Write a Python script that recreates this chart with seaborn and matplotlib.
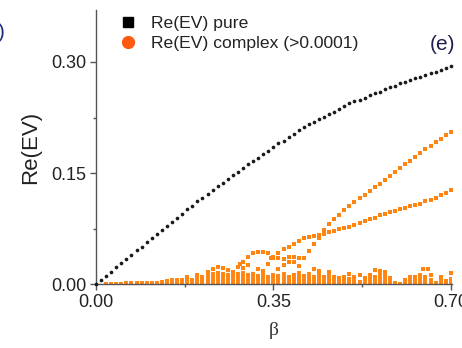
import matplotlib
matplotlib.use("Agg")
import matplotlib.pyplot as plt
from matplotlib.lines import Line2D
from matplotlib.ticker import MultipleLocator
import seaborn as sns
import pandas as pd

# ---------------- data ----------------
beta_pure = [0.00, 0.01, 0.02, 0.03, 0.04, 0.05, 0.06, 0.07, 0.08, 0.09,
             0.10, 0.11, 0.12, 0.13, 0.14, 0.15, 0.16, 0.17, 0.18, 0.19,
             0.20, 0.21, 0.22, 0.23, 0.24, 0.25, 0.26, 0.27, 0.28, 0.29,
             0.30, 0.31, 0.32, 0.33, 0.34, 0.35, 0.36, 0.37, 0.38, 0.39,
             0.40, 0.41, 0.42, 0.43, 0.44, 0.45, 0.46, 0.47, 0.48, 0.49,
             0.50, 0.51, 0.52, 0.53, 0.54, 0.55, 0.56, 0.57, 0.58, 0.59,
             0.60, 0.61, 0.62, 0.63, 0.64, 0.65, 0.66, 0.67, 0.68, 0.69, 0.70]
re_pure = [0.000, 0.006, 0.011, 0.017, 0.023, 0.029, 0.034, 0.040, 0.046, 0.051,
           0.057, 0.062, 0.068, 0.073, 0.079, 0.084, 0.090, 0.095, 0.101, 0.106,
           0.112, 0.117, 0.122, 0.127, 0.132, 0.137, 0.142, 0.147, 0.152, 0.157,
           0.162, 0.167, 0.171, 0.176, 0.180, 0.185, 0.190, 0.194, 0.199, 0.203,
           0.208, 0.212, 0.216, 0.219, 0.223, 0.226, 0.230, 0.233, 0.237, 0.240,
           0.244, 0.247, 0.249, 0.252, 0.255, 0.258, 0.260, 0.263, 0.266, 0.268,
           0.271, 0.273, 0.276, 0.278, 0.280, 0.283, 0.285, 0.287, 0.289, 0.292, 0.294]

# upper complex branch
beta_upper = [0.41, 0.42, 0.43, 0.44, 0.45, 0.46, 0.47, 0.48, 0.49, 0.50,
              0.51, 0.52, 0.53, 0.54, 0.55, 0.56, 0.57, 0.58, 0.59, 0.60,
              0.61, 0.62, 0.63, 0.64, 0.65, 0.66, 0.67, 0.68, 0.69, 0.70]
re_upper = [0.036, 0.045, 0.054, 0.063, 0.073, 0.081, 0.088, 0.094, 0.100, 0.106,
            0.111, 0.116, 0.121, 0.126, 0.131, 0.136, 0.141, 0.146, 0.152, 0.157,
            0.162, 0.167, 0.172, 0.177, 0.182, 0.187, 0.192, 0.196, 0.201, 0.206]

# lower complex branch
beta_lower = [0.35, 0.36, 0.37, 0.38, 0.39, 0.40, 0.41, 0.42, 0.43, 0.44,
              0.45, 0.46, 0.47, 0.48, 0.49, 0.50, 0.51, 0.52, 0.53, 0.54,
              0.55, 0.56, 0.57, 0.58, 0.59, 0.60, 0.61, 0.62, 0.63, 0.64,
              0.65, 0.66, 0.67, 0.68, 0.69, 0.70]
re_lower = [0.037, 0.042, 0.047, 0.051, 0.055, 0.059, 0.062, 0.064, 0.065, 0.066,
            0.068, 0.070, 0.072, 0.074, 0.076, 0.078, 0.080, 0.083, 0.085, 0.088,
            0.090, 0.093, 0.095, 0.097, 0.099, 0.101, 0.103, 0.105, 0.107, 0.109,
            0.112, 0.114, 0.117, 0.120, 0.123, 0.127]

# hump, crossing and scattered complex points
beta_scatter = [0.28, 0.29, 0.30, 0.31, 0.32, 0.33, 0.34,
                0.35, 0.36, 0.37, 0.38, 0.39, 0.40, 0.38, 0.39, 0.37, 0.40, 0.36,
                0.285, 0.29, 0.30, 0.32, 0.33, 0.34, 0.345,
                0.22, 0.23, 0.24, 0.25, 0.26, 0.27,
                0.18, 0.20, 0.43, 0.44, 0.46, 0.50, 0.52, 0.55, 0.56, 0.57,
                0.645, 0.655, 0.66, 0.68, 0.70, 0.69]
re_scatter = [0.024, 0.030, 0.037, 0.042, 0.044, 0.044, 0.042,
              0.036, 0.036, 0.034, 0.037, 0.037, 0.036, 0.030, 0.030, 0.026, 0.025, 0.021,
              0.027, 0.022, 0.026, 0.020, 0.018, 0.027, 0.035,
              0.017, 0.020, 0.023, 0.022, 0.019, 0.017,
              0.010, 0.013, 0.020, 0.018, 0.016, 0.014, 0.013, 0.019, 0.018, 0.016,
              0.020, 0.020, 0.013, 0.010, 0.015, 0.005]

# dense near-zero complex band (column heights)
beta_band = [0.02, 0.03, 0.04, 0.05, 0.06, 0.07, 0.08, 0.09, 0.10, 0.11,
             0.12, 0.13, 0.14, 0.15, 0.16, 0.17, 0.18, 0.19, 0.20, 0.21,
             0.22, 0.23, 0.24, 0.25, 0.26, 0.27, 0.28, 0.29, 0.30, 0.31,
             0.32, 0.33, 0.34, 0.35, 0.36, 0.37, 0.38, 0.39, 0.40, 0.41,
             0.42, 0.43, 0.44, 0.45, 0.46, 0.47, 0.48, 0.49, 0.50, 0.51,
             0.52, 0.53, 0.54, 0.55, 0.56, 0.57, 0.58, 0.59, 0.60, 0.61,
             0.62, 0.63, 0.64, 0.65, 0.66, 0.67, 0.68, 0.69, 0.70]
re_band = [0.003, 0.003, 0.003, 0.003, 0.004, 0.004, 0.004, 0.004, 0.005, 0.005,
           0.005, 0.006, 0.007, 0.008, 0.009, 0.008, 0.010, 0.009, 0.012, 0.013,
           0.014, 0.016, 0.018, 0.016, 0.015, 0.017, 0.016, 0.018, 0.015, 0.017,
           0.014, 0.016, 0.013, 0.015, 0.014, 0.016, 0.013, 0.015, 0.018, 0.014,
           0.016, 0.013, 0.015, 0.012, 0.014, 0.013, 0.011, 0.013, 0.010, 0.012,
           0.006, 0.011, 0.015, 0.013, 0.016, 0.014, 0.011, 0.004, 0.003, 0.009,
           0.012, 0.013, 0.015, 0.013, 0.008, 0.004, 0.007, 0.003, 0.010]

x_ticks = [0.00, 0.35, 0.70]
y_ticks = [0.00, 0.15, 0.30]
x_tick_labels = ["0.00", "0.35", "0.70"]
y_tick_labels = ["0.00", "0.15", "0.30"]

# ---------------- style ----------------
sns.set_style("ticks")
plt.rcParams['font.family'] = ['Liberation Sans', 'DejaVu Sans']

BLACK = "#1a1a1a"
ORANGE = "#ff8510"
LEG_ORANGE = "#ff5a10"
AXC = "#555555"

fig = plt.figure(figsize=(4.62, 3.48), dpi=100)
ax = fig.add_axes([0.2078, 0.183, 0.7712, 0.788])

# near-zero band
ax.vlines(beta_band, 0, re_band, colors=ORANGE, linewidth=2.8, zorder=2)

df_c = pd.DataFrame({
    "beta": beta_upper + beta_lower + beta_scatter,
    "re": re_upper + re_lower + re_scatter,
})
sns.scatterplot(data=df_c, x="beta", y="re", ax=ax, color=ORANGE, marker="s",
                s=5, linewidth=0, zorder=3, clip_on=False, legend=False)

df_p = pd.DataFrame({"beta": beta_pure, "re": re_pure})
sns.scatterplot(data=df_p, x="beta", y="re", ax=ax, color=BLACK, marker="o",
                s=7, linewidth=0, zorder=4, clip_on=False, legend=False)

ax.set_xlim(0, 0.703)
ax.set_ylim(0, 0.37)
ax.set_xticks(x_ticks)
ax.set_xticklabels(x_tick_labels)
ax.set_yticks(y_ticks)
ax.set_yticklabels(y_tick_labels)
ax.xaxis.set_minor_locator(MultipleLocator(0.175))
ax.yaxis.set_minor_locator(MultipleLocator(0.075))

for side in ["top", "right"]:
    ax.spines[side].set_visible(False)
for side in ["left", "bottom"]:
    ax.spines[side].set_color(AXC)
    ax.spines[side].set_linewidth(1.0)

ax.tick_params(axis="both", which="major", direction="out", length=4.5, width=1,
               color=AXC, labelsize=13, labelcolor="#222222", pad=2.5)
ax.tick_params(axis="both", which="minor", direction="out", length=2.5, width=1,
               color=AXC)

ax.set_xlabel("β", fontsize=14, family=["Liberation Serif", "DejaVu Serif"],
              color="#333333", labelpad=8)
ax.set_ylabel("Re(EV)", fontsize=16, color="#222222", labelpad=7)

handles = [
    Line2D([], [], linestyle="none", marker="s", markersize=7,
           markerfacecolor="black", markeredgecolor="black"),
    Line2D([], [], linestyle="none", marker="o", markersize=8.5,
           markerfacecolor=LEG_ORANGE, markeredgecolor=LEG_ORANGE),
]
ax.legend(handles, ["Re(EV) pure", "Re(EV) complex (>0.0001)"],
          loc="upper left", bbox_to_anchor=(0.045, 1.005), frameon=False,
          fontsize=12.6, handlelength=1.0, handletextpad=0.8,
          labelspacing=0.3, borderaxespad=0, labelcolor="#222222")

fig.text(0.985, 0.855, "(e)", fontsize=15, color="#1f1f4f", ha="right", va="baseline")
fig.text(-0.004, 0.89, ")", fontsize=15, color="#1f2f7f", ha="left", va="baseline")

fig.savefig("out.png", dpi=100)
